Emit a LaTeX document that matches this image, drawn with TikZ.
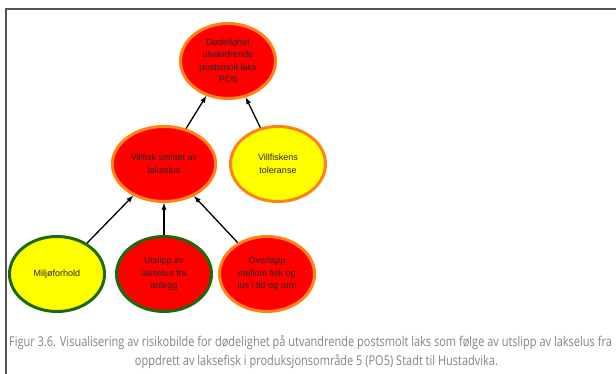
\documentclass[tikz,border=0pt]{standalone}
\usepackage{fontspec}
\setmainfont{Liberation Sans}
\newfontfamily\capfont[FakeStretch=0.815]{Open Sans}
\usepackage{tikz}
\usetikzlibrary{arrows,shapes}
\usetikzlibrary{positioning}
\definecolor{riskred}{RGB}{255,0,0}
\definecolor{riskyellow}{RGB}{255,255,0}
\definecolor{rimorange}{RGB}{255,130,20}
\definecolor{rimgreen}{RGB}{30,105,10}
\definecolor{capgray}{RGB}{130,130,130}
\definecolor{framegray}{RGB}{85,85,85}
\tikzstyle{risk} = [draw, ellipse, line width=3pt, minimum width=95pt,
    minimum height=75pt, align=center, text=black!85,
    font=\fontsize{9}{12.5}\selectfont]
\tikzstyle{caption} = [text=capgray, font=\capfont\fontsize{13.5}{19}\selectfont]

\begin{document}
\begin{tikzpicture}[x=1pt, y=1pt, node distance = 110pt, auto]
  \useasboundingbox (0,0) rectangle (616,374);
  % frame
  \draw [framegray, line width=1.5pt] (616,365) -- (6,365) -- (6,0);
  % Place nodes
  \node [risk, fill=riskred, draw=rimorange] (dod) at (228,313)
    {D\o delighet\\utvandrende\\postsmolt laks\\PO5};
  \node [risk, fill=riskred, draw=rimorange] (smitte) at (164,210)
    {Villfisk smittet av\\lakselus};
  \node [risk, fill=riskyellow, draw=rimorange, right of=smitte, node distance = 114pt] (toleranse)
    {Villfiskens\\toleranse};
  \node [risk, fill=riskred, draw=rimgreen, below of=smitte, node distance = 110pt] (utslipp)
    {Utslipp av\\lakselus fra\\anlegg};
  \node [risk, fill=riskyellow, draw=rimgreen, left of=utslipp, node distance = 107pt] (miljo)
    {Milj\o forhold};
  \node [risk, fill=riskred, draw=rimorange, right of=utslipp, node distance = 103pt] (overlapp)
    {Overlapp\\mellom fisk og\\lus i tid og rom};
  \draw [-latex, line width=1.3pt] (smitte) -- (dod);
  \draw [-latex, line width=1.3pt] (toleranse) -- (dod);
  \draw [-latex, line width=1.3pt] (miljo) -- (smitte);
  \draw [-latex, line width=1.3pt] (utslipp) -- (smitte);
  \draw [-latex, line width=1.3pt] (overlapp) -- (smitte);
  % caption
  \node [caption] (cap1) at (310.5,31) {Figur 3.6. Visualisering av risikobilde for d\o delighet p\aa{} utvandrende postsmolt laks som f\o lge av utslipp av lakselus fra};
  \node [caption] (cap2) at (316.5,12) {oppdrett av laksefisk i produksjonsomr\aa de 5 (PO5) Stadt til Hustadvika.};
\end{tikzpicture}
\end{document}
